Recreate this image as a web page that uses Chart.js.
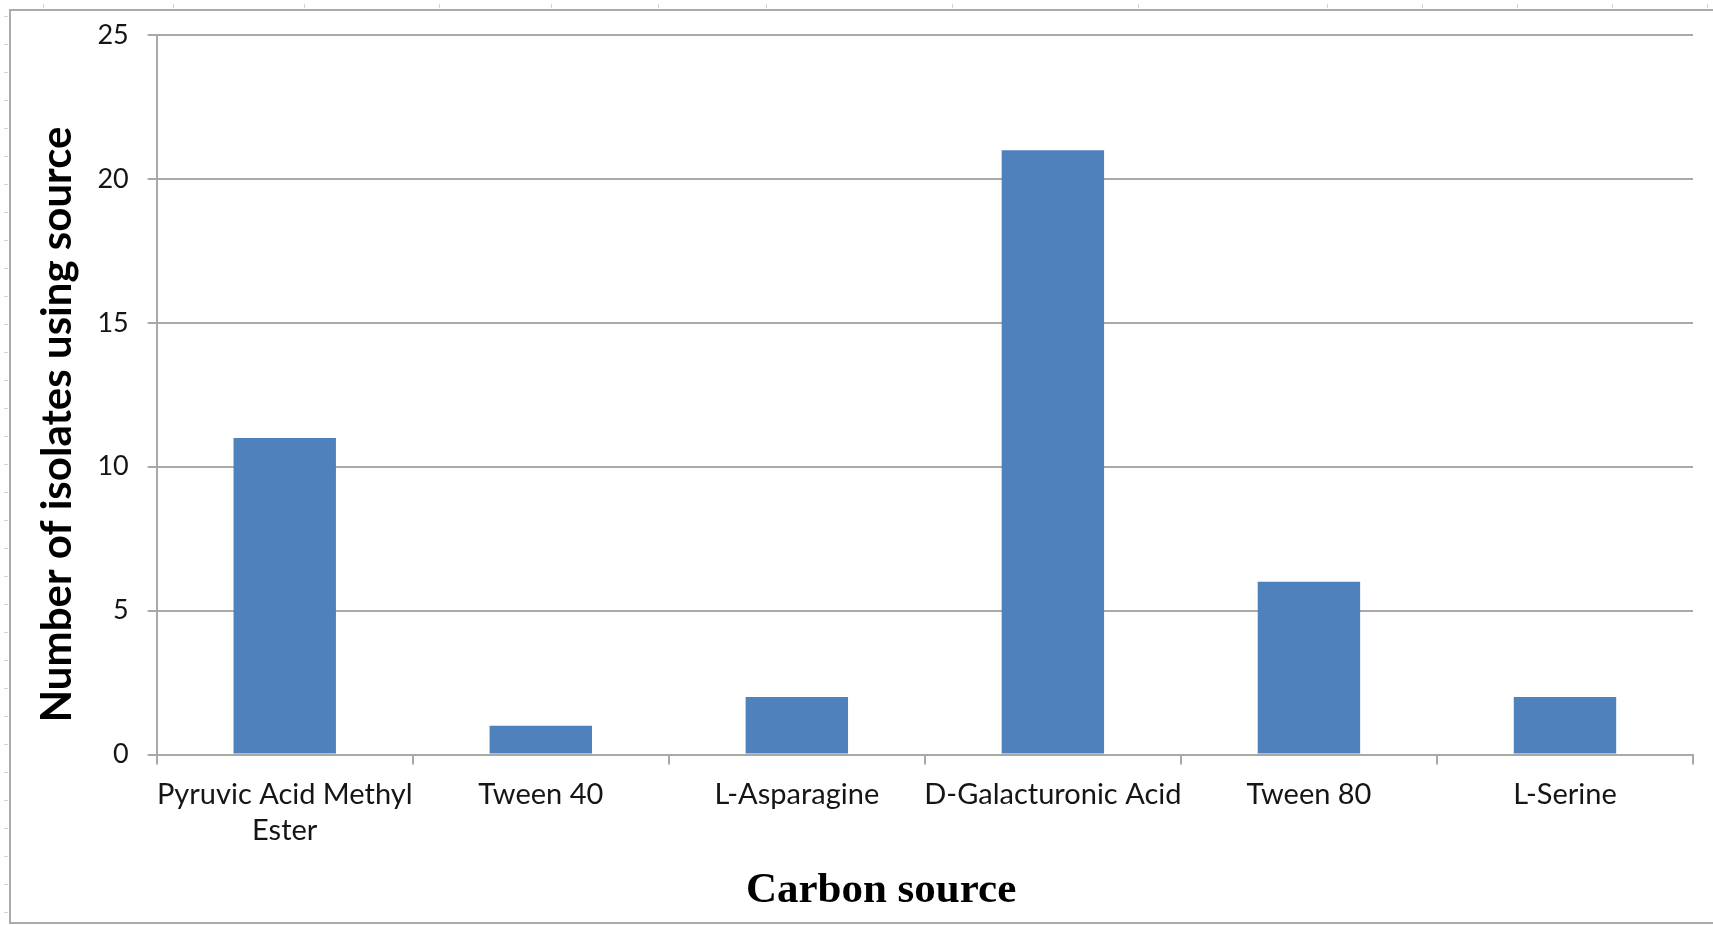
<!DOCTYPE html>
<html>
<head>
<meta charset="utf-8">
<title>Carbon source utilisation</title>
<script src="https://cdn.jsdelivr.net/npm/chart.js@4.4.1/dist/chart.umd.min.js"></script>
<style>
  html, body { margin: 0; padding: 0; background: #ffffff; }
  canvas { display: block; }
</style>
</head>
<body>
<canvas id="chart" width="1713" height="925"></canvas>
<script>
// Carbon sources tested and the number of isolates able to use each one
const categories = [
  ['Pyruvic Acid Methyl', 'Ester'],
  'Tween 40',
  'L-Asparagine',
  'D-Galacturonic Acid',
  'Tween 80',
  'L-Serine'
];
const isolateCounts = [11, 1, 2, 21, 6, 2];
const yTickValues = [0, 5, 10, 15, 20, 25];

const xTitle = 'Carbon source';
const yTitle = 'Number of isolates using source';

const lineGrey = '#a9a9a9';

// Light sheet frame with small ruler marks along the top and left edges
const framePlugin = {
  id: 'sheetFrame',
  beforeDraw(chart) {
    const ctx = chart.ctx;
    const W = chart.width, H = chart.height;
    ctx.save();
    ctx.fillStyle = '#ffffff';
    ctx.fillRect(0, 0, W, H);
    ctx.strokeStyle = '#d2d2d2';
    ctx.lineWidth = 1;
    const topMarks = [43, 173, 304, 439, 551, 658, 766, 952, 1138, 1327, 1422, 1517, 1612, 1707];
    topMarks.forEach(x => {
      ctx.beginPath(); ctx.moveTo(x + 0.5, 4); ctx.lineTo(x + 0.5, 8); ctx.stroke();
    });
    for (let y = 16; y < H - 4; y += 28) {
      ctx.beginPath(); ctx.moveTo(4, y + 0.5); ctx.lineTo(8, y + 0.5); ctx.stroke();
    }
    ctx.strokeStyle = '#ababab';
    ctx.lineWidth = 2;
    ctx.beginPath();
    ctx.moveTo(W, 10); ctx.lineTo(10, 10); ctx.lineTo(10, 923); ctx.lineTo(W, 923);
    ctx.stroke();
    ctx.restore();
  }
};

// Axis titles, placed relative to the plot area
const titlesPlugin = {
  id: 'axisTitles',
  afterDraw(chart) {
    const ctx = chart.ctx;
    const a = chart.chartArea;
    ctx.save();
    ctx.fillStyle = '#000000';
    ctx.textAlign = 'center';
    ctx.textBaseline = 'alphabetic';
    ctx.font = 'bold 43px "Liberation Serif", "Times New Roman", serif';
    ctx.fillText(xTitle, a.left + (a.right - a.left) * 0.4715, 902);

    ctx.translate(57, a.top + (a.bottom - a.top) * 0.541);
    ctx.rotate(-Math.PI / 2);
    ctx.textBaseline = 'middle';
    ctx.font = 'bold 42px Lato, "Open Sans", sans-serif';
    ctx.fillText(yTitle, 0, 0);
    ctx.restore();
  }
};

new Chart(document.getElementById('chart'), {
  type: 'bar',
  data: {
    labels: categories,
    datasets: [{
      data: isolateCounts,
      backgroundColor: '#4f81bd',
      borderWidth: 0,
      barPercentage: 0.4,
      categoryPercentage: 1.0
    }]
  },
  options: {
    responsive: false,
    animation: false,
    devicePixelRatio: 1,
    layout: { padding: { top: 34.5, right: 20, bottom: 0, left: 0 } },
    plugins: {
      legend: { display: false },
      tooltip: { enabled: false },
      title: { display: false }
    },
    scales: {
      x: {
        offset: true,
        grid: {
          offset: true,
          drawOnChartArea: false,
          drawTicks: true,
          tickLength: 10,
          color: lineGrey,
          lineWidth: 2
        },
        border: { display: true, color: lineGrey, width: 2 },
        ticks: {
          color: '#151515',
          padding: 12,
          maxRotation: 0,
          autoSkip: false,
          font: { family: 'Lato, "Open Sans", sans-serif', size: 29, lineHeight: 1.24 }
        },
        afterFit(scale) { scale.height = 170.5; }
      },
      y: {
        min: 0,
        max: 25,
        afterBuildTicks(scale) { scale.ticks = yTickValues.map(v => ({ value: v })); },
        grid: {
          color: lineGrey,
          lineWidth: 2,
          drawTicks: true,
          tickLength: 9
        },
        border: { display: true, color: lineGrey, width: 2 },
        ticks: {
          color: '#151515',
          padding: 19,
          font: { family: 'Lato, "Open Sans", sans-serif', size: 27 }
        },
        afterFit(scale) { scale.width = 156.7; }
      }
    }
  },
  plugins: [framePlugin, titlesPlugin]
});
</script>
</body>
</html>
